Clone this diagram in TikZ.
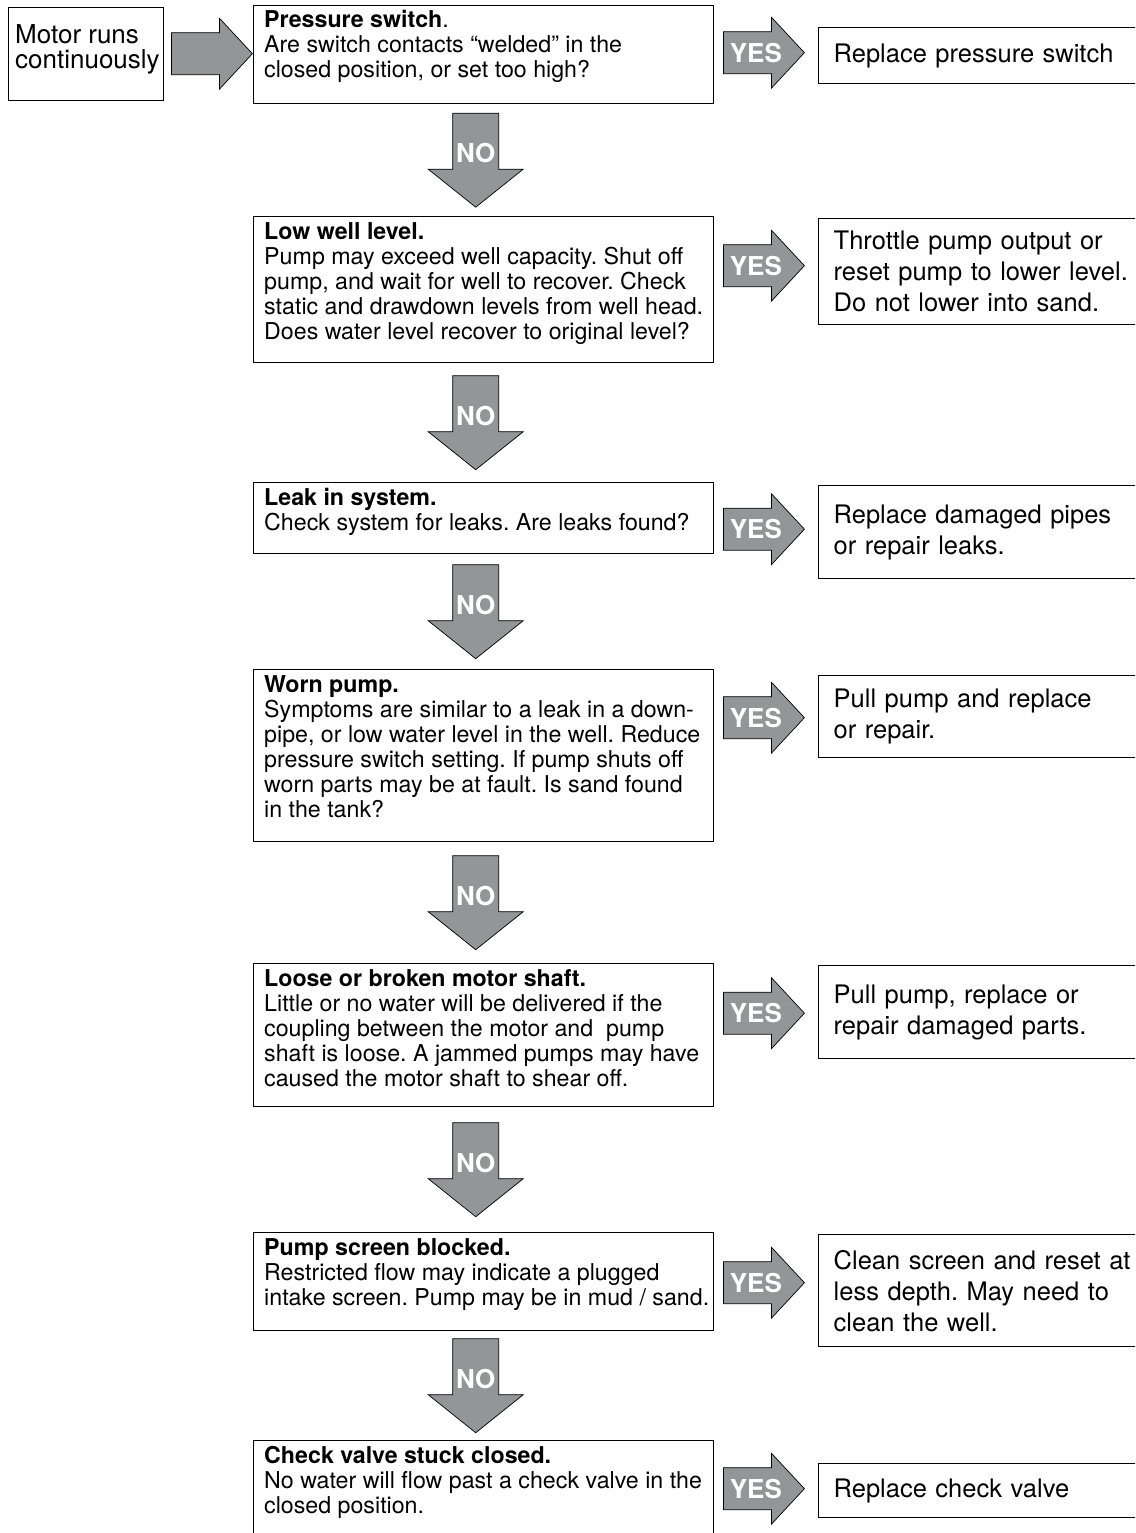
\documentclass[tikz,border=0pt]{standalone}
\usepackage{fontspec}
\setmainfont{TeX Gyre Heros}
\usetikzlibrary{calc}
\frenchspacing
\definecolor{arrgray}{RGB}{147,149,152}
\tikzset{
  frame/.style={draw=black, line width=1.4pt, anchor=north west, inner sep=0pt},
  qtext/.style={anchor=north west, inner sep=0pt, align=left, font=\fontsize{23.2}{25}\selectfont},
  rbox/.style={draw=black, line width=1.4pt, anchor=north west, inner xsep=15pt, inner ysep=0pt,
               text width=310pt, align=left, font=\fontsize{25.5}{31}\selectfont},
  blockarr/.style={fill=arrgray, draw=black, line width=0.7pt, line join=miter},
  lbl/.style={text=white, font=\bfseries\fontsize{26}{26}\selectfont, inner sep=0pt}
}
% downward NO arrow between two boxes
\newcommand\noarr[2]{%
  \coordinate (m#2) at ($(#1.south)!0.5!(#2.north)+(-8,0)$);
  \draw[blockarr] (m#2) ++(-23,-47) -- ++(46,0) -- ++(0,56) -- ++(24.5,0)
     -- ++(-47.5,38) -- ++(-47.5,-38) -- ++(24.5,0) -- cycle;
  \node[lbl] (no#2) at ($(m#2)+(0,-7)$) {NO};
}
% rightward arrow from box #1 to box #2, vertical shift #3, label #4, gap #5
\newcommand\rarr[5]{%
  \coordinate (s#2) at ($(#1.east |- #2.west)+(#5,#3)$);
  \draw[blockarr] (s#2) ++(0,-21) -- ++(48,0) -- ++(0,-14.5) -- ++(33,35.5)
     -- ++(-33,35.5) -- ++(0,-14.5) -- ++(-48,0) -- cycle;
  \node[lbl] (yes#2) at ($(s#2)+(32.5,0)$) {#4};
}
\begin{document}
\begin{tikzpicture}[x=1pt,y=-1pt]
\useasboundingbox (0,0) rectangle (1135,1533);
\clip (0,0) rectangle (1135,1533);
\fill[white] (0,0) rectangle (1135,1533);

% start box
\node[frame, minimum width=155pt, minimum height=93pt] (m) at (8,7) {};
\node[anchor=north west, inner sep=0pt, align=left, font=\fontsize{26}{25}\selectfont]
  (mt) at ($(m.north west)+(7,17)$) {Motor runs\\continuously};

% question boxes
\node[frame, minimum width=460pt, minimum height=98pt]  (b1) at (253,5) {};
\node[frame, minimum width=460pt, minimum height=146pt] (b2) at (253,216) {};
\node[frame, minimum width=460pt, minimum height=71pt]  (b3) at (253,482) {};
\node[frame, minimum width=460pt, minimum height=172pt] (b4) at (253,669) {};
\node[frame, minimum width=460pt, minimum height=143pt] (b5) at (253,963) {};
\node[frame, minimum width=460pt, minimum height=98pt]  (b6) at (253,1232) {};
\node[frame, minimum width=460pt, minimum height=98pt]  (b7) at (253,1440) {};

\node[qtext] (t1) at ($(b1.north west)+(11,5)$)
  {\textbf{Pressure switch}.\\Are switch contacts “welded” in the\\closed position, or set too high?};
\node[qtext] (t2) at ($(b2.north west)+(11,6)$)
  {\textbf{Low well level.}\\Pump may exceed well capacity. Shut off\\pump, and wait for well to recover. Check\\static and drawdown levels from well head.\\Does water level recover to original level?};
\node[qtext] (t3) at ($(b3.north west)+(11,6)$)
  {\textbf{Leak in system.}\\Check system for leaks. Are leaks found?};
\node[qtext] (t4) at ($(b4.north west)+(11,6)$)
  {\textbf{Worn pump.}\\Symptoms are similar to a leak in a down-\\pipe, or low water level in the well. Reduce\\pressure switch setting. If pump shuts off\\worn parts may be at fault. Is sand found\\in the tank?};
\node[qtext] (t5) at ($(b5.north west)+(11,6)$)
  {\textbf{Loose or broken motor shaft.}\\Little or no water will be delivered if the\\coupling between the motor and~ pump\\shaft is loose. A jammed pumps may have\\caused the motor shaft to shear off.};
\node[qtext] (t6) at ($(b6.north west)+(11,6)$)
  {\textbf{Pump screen blocked.}\\Restricted flow may indicate a plugged\\intake screen. Pump may be in mud / sand.};
\node[qtext] (t7) at ($(b7.north west)+(11,6)$)
  {\textbf{Check valve stuck closed.}\\No water will flow past a check valve in the\\closed position.};

% answer boxes
\node[rbox, minimum height=56pt]  (r1) at (818,27)   {Replace pressure switch};
\node[rbox, minimum height=106pt] (r2) at (818,218)  {Throttle pump output or\\reset pump to lower level.\\Do not lower into sand.};
\node[rbox, minimum height=93pt]  (r3) at (818,485)  {Replace damaged pipes\\or repair leaks.};
\node[rbox, minimum height=82pt]  (r4) at (818,675)  {Pull pump and replace\\or repair.};
\node[rbox, minimum height=93pt]  (r5) at (818,965)  {Pull pump, replace or\\repair damaged parts.};
\node[rbox, minimum height=112pt] (r6) at (818,1234) {Clean screen and reset at\\less depth. May need to\\clean the well.};
\node[rbox, minimum height=54pt]  (r7) at (818,1463) {Replace check valve};

% arrows
\rarr{m}{b1}{-1}{}{7}
\rarr{b1}{r1}{-3}{YES}{9}
\rarr{b2}{r2}{-6}{YES}{9}
\rarr{b3}{r3}{-3}{YES}{9}
\rarr{b4}{r4}{1}{YES}{9}
\rarr{b5}{r5}{1}{YES}{9}
\rarr{b6}{r6}{-8}{YES}{9}
\rarr{b7}{r7}{-2}{YES}{9}

\noarr{b1}{b2}
\noarr{b2}{b3}
\noarr{b3}{b4}
\noarr{b4}{b5}
\noarr{b5}{b6}
\noarr{b6}{b7}
\end{tikzpicture}
\end{document}
